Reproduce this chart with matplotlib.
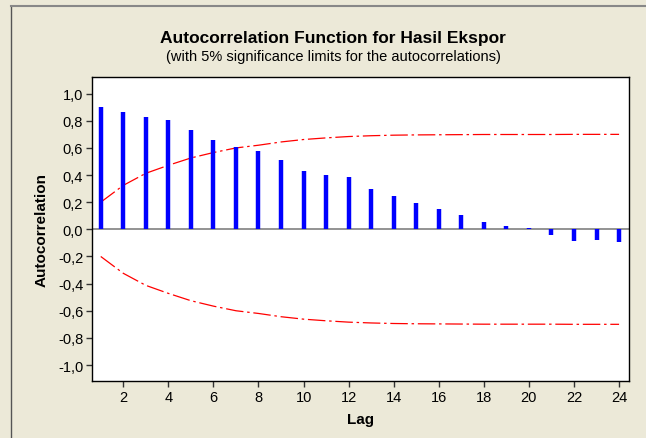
import matplotlib.pyplot as plt
from matplotlib.lines import Line2D

# ACF values
lags = list(range(1, 25))
acf = [0.904, 0.862, 0.827, 0.803, 0.729, 0.662, 0.610, 0.576,
       0.509, 0.432, 0.398, 0.388, 0.299, 0.247, 0.196, 0.153,
       0.104, 0.055, 0.028, 0.013, -0.039, -0.088, -0.080, -0.096]
upper_limit = [0.200, 0.324, 0.413, 0.472, 0.526, 0.566, 0.600, 0.620,
               0.644, 0.662, 0.674, 0.684, 0.690, 0.694, 0.696, 0.697,
               0.698, 0.699, 0.699, 0.699, 0.699, 0.700, 0.700, 0.700]
lower_limit = [-v for v in upper_limit]
x_ticks = list(range(2, 25, 2))
y_ticks = [-1.0, -0.8, -0.6, -0.4, -0.2, 0.0, 0.2, 0.4, 0.6, 0.8, 1.0]

W, H = 646, 439
bg = "#ECE9D8"
plt.rcParams["font.family"] = ["Liberation Sans", "DejaVu Sans"]

fig = plt.figure(figsize=(W / 100, H / 100), dpi=100, facecolor=bg)

# outer frame (top and left edges only, rest cropped)
fig.add_artist(Line2D([11 / W, 11 / W], [0, 1 - 7 / H], color="#555555", lw=1.0,
                      transform=fig.transFigure))
fig.add_artist(Line2D([11 / W, 1], [1 - 7 / H, 1 - 7 / H], color="#888888", lw=1.5,
                      transform=fig.transFigure))

left, right, top, bottom = 91.5, 629, 77.7, 382.3
ax = fig.add_axes([left / W, 1 - bottom / H, (right - left) / W, (bottom - top) / H])
ax.set_facecolor("white")

ax.axhline(0, color="#808080", lw=1.2, zorder=1)
ax.vlines(lags, 0, acf, colors="#0000FF", lw=3.2, zorder=3)
dash = (0, (14, 3, 2, 3))
ax.plot(lags, upper_limit, color="#FF0000", lw=0.9, linestyle=dash, zorder=2)
ax.plot(lags, lower_limit, color="#FF0000", lw=0.9, linestyle=dash, zorder=2)

ax.set_xlim(0.59, 24.44)
ax.set_ylim(-1.12, 1.125)
ax.set_xticks(x_ticks)
ax.set_yticks(y_ticks)
ax.set_yticklabels([f"{v:.1f}".replace(".", ",") for v in y_ticks])
ax.tick_params(direction="out", length=4, width=1, color="#333333",
               labelsize=10.5, pad=2)
for s in ax.spines.values():
    s.set_color("black")
    s.set_linewidth(1.0)

ax.set_xlabel("Lag", fontsize=11, fontweight="bold", labelpad=6)
ax.set_ylabel("Autocorrelation", fontsize=11, fontweight="bold", labelpad=7)

fig.text(333 / W, 1 - 38 / H, "Autocorrelation Function for Hasil Ekspor",
         ha="center", va="center", fontsize=12.5, fontweight="bold")
fig.text(333 / W, 1 - 57 / H, "(with 5% significance limits for the autocorrelations)",
         ha="center", va="center", fontsize=10.5)

fig.savefig("out.png", dpi=100, facecolor=bg)
